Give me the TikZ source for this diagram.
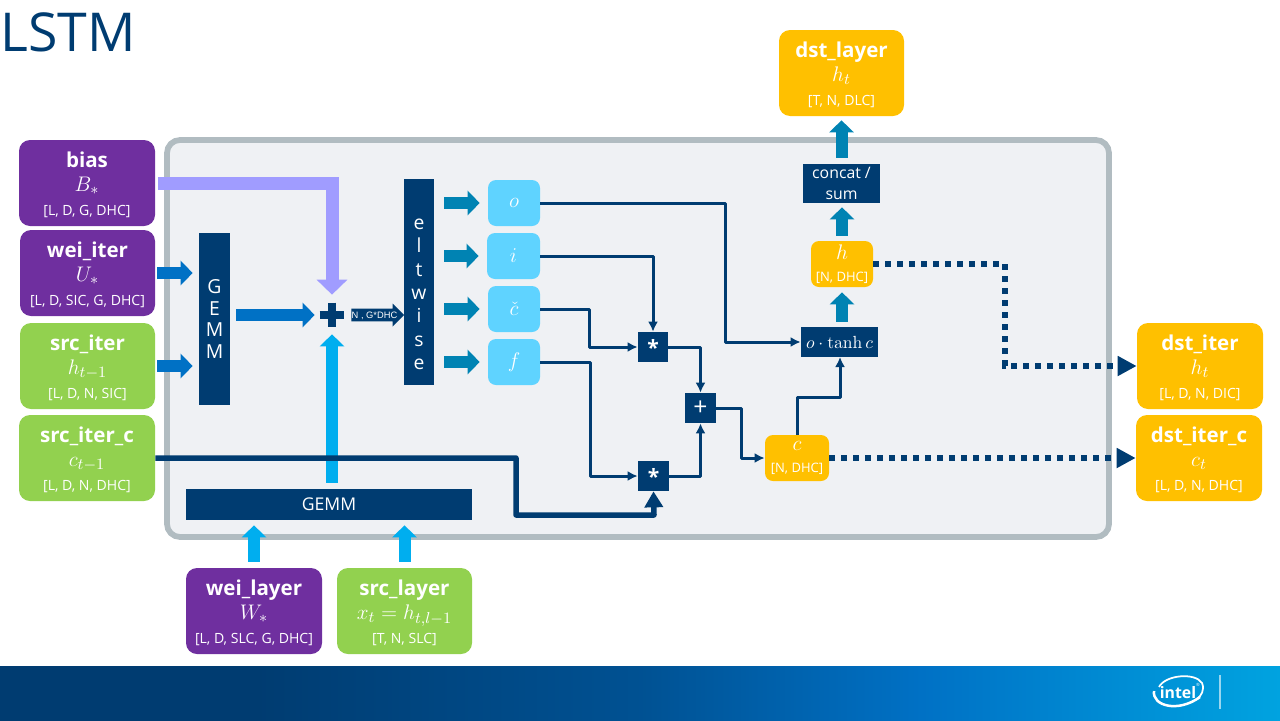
\documentclass[tikz,border=0pt]{standalone}
\usepackage[no-math]{fontspec}
\setmainfont{Open Sans}
\newfontfamily\arrowfont{Liberation Sans}
\usetikzlibrary{arrows.meta,shapes.arrows}
\definecolor{navy}{HTML}{003C71}
\definecolor{panelgray}{HTML}{EFF1F4}
\definecolor{panelrim}{HTML}{B1BCC1}
\definecolor{tensorpurple}{HTML}{6F2F9F}
\definecolor{tensorgreen}{HTML}{92D14F}
\definecolor{tensoryellow}{HTML}{FFC000}
\definecolor{cellblue}{HTML}{5FD3FF}
\definecolor{fatblue}{HTML}{0071C5}
\definecolor{fatcyan}{HTML}{00AEEF}
\definecolor{fatteal}{HTML}{0083B3}
\definecolor{fatlilac}{HTML}{A09CFF}
\definecolor{bandend}{HTML}{00A3E0}
\pgfdeclarehorizontalshading{bandshade}{100bp}{color(0bp)=(navy); color(35bp)=(navy); color(50bp)=(navy!60!fatblue); color(61bp)=(fatblue); color(75bp)=(bandend); color(100bp)=(bandend)}
\tikzset{
  size/.style 2 args={minimum width=#1*0.02cm, minimum height=#2*0.02cm},
  tensor/.style={rounded corners=0.22cm, inner sep=0pt, text=white, align=center,
    font=\fontsize{11}{13.8}\selectfont},
  purplebox/.style={tensor, fill=tensorpurple},
  greenbox/.style={tensor, fill=tensorgreen},
  yellowbox/.style={tensor, fill=tensoryellow},
  cellbox/.style={rounded corners=0.16cm, inner sep=0pt, fill=cellblue, text=white,
    font=\fontsize{13}{13}\selectfont},
  opbox/.style={fill=navy, inner sep=0pt, text=white, align=center,
    font=\fontsize{10}{13}\selectfont},
  fatarrow/.style={line width=0.24cm, -{Triangle[length=0.24cm,width=0.48cm]}},
  thinline/.style={draw=navy, line width=0.06cm, line join=round, -{Latex[length=0.2cm,width=0.2cm]}},
  dotline/.style={draw=navy, line width=0.11cm, dash pattern=on 0.12cm off 0.12cm,
    -{Triangle[length=0.38cm,width=0.38cm]}},
}
\newcommand{\tensorlabel}[3]{\rule{0pt}{11pt}{\fontsize{11.7}{13.8}\selectfont\bfseries #1}\\{\fontsize{13}{13.8}\selectfont$#2$}\\{\fontsize{8}{13.2}\selectfont #3}}
\begin{document}
\begin{tikzpicture}[x=0.02cm,y=-0.02cm]
\useasboundingbox (0,0) rectangle (1280,720);
% Title and band
\node[anchor=west, inner sep=0pt, text=navy, font=\fontsize{30.5}{32}\selectfont] (title) at (0,32) {LSTM};
\shade[shading=bandshade] (0,666) rectangle (1280,720);
\node[inner sep=0pt, text=white, font=\fontsize{9}{10}\selectfont\bfseries] (logo) at (1178,693) {intel};
\node[inner sep=0pt, text=white, font=\fontsize{2.5}{3}\selectfont] (logomark) at (1198,685) {\textregistered};
\draw[white, line width=0.035cm] (1159,687) .. controls (1165,675) and (1195,672) .. (1202,683) .. controls (1205,690) and (1201,696) .. (1197,699);
\draw[white, line width=0.05cm] (1154,691) .. controls (1152,706) and (1178,713) .. (1200,697);
\draw[white, opacity=0.6, line width=0.025cm] (1220,675) -- (1220,709);

% Panel
\draw[draw=panelrim, fill=panelgray, line width=0.115cm, rounded corners=0.26cm] (167,140) rectangle (1109,537);

% Inputs
\node[purplebox, size={136}{86}] (bias) at (87,183) {\tensorlabel{bias}{B_*}{[L, D, G, DHC]}};
\node[purplebox, size={135}{86}] (weiiter) at (87.5,273) {\tensorlabel{wei\_iter}{U_*}{[L, D, SIC, G, DHC]}};
\node[greenbox, size={135}{86}] (srciter) at (87.5,366) {\tensorlabel{src\_iter}{h_{t-1}}{[L, D, N, SIC]}};
\node[greenbox, size={136}{86}] (srciterc) at (87,458) {\tensorlabel{src\_iter\_c}{c_{t-1}}{[L, D, N, DHC]}};
\node[purplebox, size={136}{86}] (weilayer) at (254,611) {\tensorlabel{wei\_layer}{W_*}{[L, D, SLC, G, DHC]}};
\node[greenbox, size={135}{86}] (srclayer) at (404.5,611) {\tensorlabel{src\_layer}{x_t = h_{t,l-1}}{[T, N, SLC]}};

% Outputs
\node[yellowbox, size={125}{86}] (dstlayer) at (841.5,73) {\tensorlabel{dst\_layer}{h_t}{[T, N, DLC]}};
\node[yellowbox, size={126}{86}] (dstiter) at (1200,366) {\tensorlabel{dst\_iter}{h_t}{[L, D, N, DIC]}};
\node[yellowbox, size={126}{86}] (dstiterc) at (1199,458) {\tensorlabel{dst\_iter\_c}{c_t}{[L, D, N, DHC]}};

% Blocks
\node[opbox, size={31}{172}, font=\fontsize{11}{12.5}\selectfont] (gemmv) at (214.5,319) {G\\E\\M\\M};
\node[opbox, size={286}{31}] (gemmh) at (329,504.5) {GEMM};
\node[opbox, size={30}{206}, font=\fontsize{11}{13.3}\selectfont] (eltwise) at (419,282) {\rule{0pt}{20pt}e\\l\\t\\w\\i\\s\\e};
\node[opbox, size={30}{30}, font=\fontsize{12}{12}\selectfont\bfseries] (mulup) at (653,347) {*};
\node[opbox, size={31}{30}, font=\fontsize{12}{12}\selectfont\bfseries] (muldown) at (653.5,476) {*};
\node[opbox, size={31}{30}, font=\fontsize{14}{14}\selectfont] (addop) at (700.5,408) {+};
\node[opbox, size={77}{30}] (tanhop) at (839.5,342) {$o\cdot\tanh c$};
\node[opbox, size={77}{39}, font=\fontsize{9}{11.5}\selectfont] (concat) at (841.5,183.5) {concat /\\sum};

% Cells
\node[cellbox, size={52}{46}] (cello) at (514,203) {$o$};
\node[cellbox, size={53}{46}] (celli) at (513.5,256) {$i$};
\node[cellbox, size={52}{46}] (cellc) at (514,309) {$\check{c}$};
\node[cellbox, size={52}{46}] (cellf) at (514,362) {$f$};
\node[yellowbox, size={62}{46}, rounded corners=0.16cm, font=\fontsize{7.4}{12.5}\selectfont] (cellh) at (842,264) {{\fontsize{13}{12.5}\selectfont$h$}\\{[N, DHC]}};
\node[yellowbox, size={64}{46}, rounded corners=0.16cm, font=\fontsize{7.4}{12.5}\selectfont] (cellcc) at (797,458) {{\fontsize{13}{12.5}\selectfont$c$}\\{[N, DHC]}};

% Sum sign and shape tag
\node[size={24}{24}, inner sep=0pt] (plus) at (332,315) {};
\draw[navy, line width=0.16cm] (plus.west) -- (plus.east);
\draw[navy, line width=0.16cm] (plus.north) -- (plus.south);
\node[single arrow, fill=navy, text=white, inner sep=0pt, minimum height=1.02cm, minimum width=0.46cm,
  single arrow head extend=0.1cm, text height=0.18cm, text depth=0.06cm,
  font=\arrowfont\fontsize{5.3}{6}\selectfont] (tag) at (374.5,315) {N , G*DHC};

% Fat arrows
\draw[fatarrow, draw=fatblue, shorten <=0.04cm, shorten >=0.12cm] (weiiter.east) -- (weiiter.east -| gemmv.west);
\draw[fatarrow, draw=fatblue, shorten <=0.04cm, shorten >=0.12cm] (srciter.east) -- (srciter.east -| gemmv.west);
\draw[fatarrow, draw=fatblue, shorten <=0.12cm, shorten >=0.1cm] (gemmv.east |- plus.west) -- (plus.west);
\draw[draw=fatlilac, line width=0.26cm, -{Triangle[length=0.3cm,width=0.6cm]}, shorten <=0.06cm, shorten >=0.16cm] (bias.east) -| (plus.north);
\draw[fatarrow, draw=fatcyan, shorten <=0.12cm, shorten >=0.14cm] (plus.south |- gemmh.north) -- (plus.south);
\draw[fatarrow, draw=fatcyan, shorten <=0.12cm, shorten >=0.1cm] (weilayer.north) -- (weilayer.north |- gemmh.south);
\draw[fatarrow, draw=fatcyan, shorten <=0.12cm, shorten >=0.1cm] (srclayer.north) -- (srclayer.north |- gemmh.south);
\foreach \cellname in {cello,celli,cellc,cellf}
  \draw[fatarrow, draw=fatteal, shorten <=0.2cm, shorten >=0.16cm] (eltwise.east |- \cellname.west) -- (\cellname.west);
\draw[fatarrow, draw=fatteal, shorten <=0.1cm, shorten >=0.1cm] (tanhop.north -| cellh.south) -- (cellh.south);
\draw[fatarrow, draw=fatteal, shorten <=0.1cm, shorten >=0.08cm] (cellh.north) -- (cellh.north |- concat.south);
\draw[fatarrow, draw=fatteal, shorten <=0.12cm, shorten >=0.08cm] (concat.north) -- (dstlayer.south);

% Thin connectors
\draw[thinline] (cello.east) -- (725,203) |- (tanhop.west);
\draw[thinline] (celli.east) -| (mulup.north);
\draw[thinline] (cellc.east) -- (589,309) |- (mulup.west);
\draw[thinline] (cellf.east) -- (590,362) |- (muldown.west);
\draw[thinline] (mulup.east) -| (addop.north);
\draw[thinline] (muldown.east) -| (addop.south);
\draw[thinline] (addop.east) -- (741,408) |- (cellcc.west);
\draw[thinline] (cellcc.north) -- (797,397) -- (840,397) -- (840,357);
\draw[draw=navy, line width=0.11cm, line join=round, -{Triangle[length=0.32cm,width=0.36cm]}] (srciterc.east) -- (516,458) -- (516,515) -- (654,515) -- (muldown.south);

% Dotted outputs
\draw[dotline] (cellh.east) -- (1005,264) |- (dstiter.west);
\draw[dotline] (cellcc.east) -- (dstiterc.west);
\end{tikzpicture}
\end{document}
